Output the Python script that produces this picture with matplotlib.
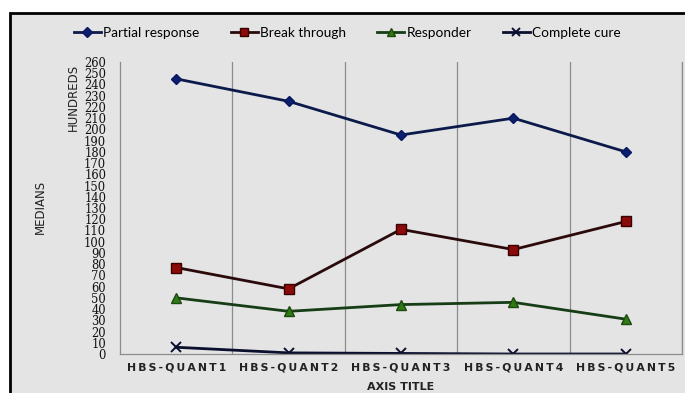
import matplotlib
matplotlib.use("Agg")
import matplotlib.pyplot as plt
from matplotlib.patches import Rectangle

categories = ["HBS- QUANT1", "HBS-QUANT2", "HBS-QUANT3", "HBS-QUANT4", "HBS-QUANT5"]
partial_response = [245, 225, 195, 210, 180]
break_through = [77, 58, 111, 93, 118]
responder = [50, 38, 44, 46, 31]
complete_cure = [6, 1, 0.5, 0, 0]
y_ticks = list(range(0, 261, 10))

def spaced(s):
    return "\u2009".join(s.replace("- ", "-"))

fig = plt.figure(figsize=(6.85, 3.93), dpi=100)
fig.patch.set_facecolor("white")

# chart area box
box = Rectangle((9.5 / 685, -0.05), 1.0, (393 - 13.5) / 393 + 0.05,
                transform=fig.transFigure, facecolor="#e4e4e4",
                edgecolor="black", linewidth=2.0, zorder=-10)
fig.patches.append(box)

ax = fig.add_axes([120 / 685, (393 - 354) / 393, 562 / 685, (354 - 62) / 393])
ax.set_facecolor("none")
x = list(range(len(categories)))

ax.plot(x, partial_response, color="#0b1a4a", lw=2.0, marker="D", ms=5,
        mfc="#0a1f6e", mec="#0a1660", label="Partial response")
ax.plot(x, break_through, color="#2a0a0a", lw=2.0, marker="s", ms=7,
        mfc="#8b0a0a", mec="#3a0000", label="Break through")
ax.plot(x, responder, color="#163d16", lw=2.0, marker="^", ms=7,
        mfc="#2f7a12", mec="#1d4a0e", label="Responder")
ax.plot(x, complete_cure, color="#0b0f2e", lw=2.0, marker="x", ms=7,
        mew=1.4, mec="#0b0f2e", label="Complete cure")

ax.set_xlim(-0.5, len(categories) - 0.5)
ax.set_ylim(0, 260)
ax.set_yticks(y_ticks)
ax.set_yticklabels([str(v) for v in y_ticks], family="DejaVu Serif",
                   fontsize=8.3, color="#111111")
ax.set_xticks(x)
ax.set_xticklabels([spaced(c) for c in categories], fontsize=7.8,
                   fontweight="bold", color="#222222", family="DejaVu Sans")
ax.tick_params(axis="x", length=0, pad=6)
ax.tick_params(axis="y", length=0, pad=10)

for b in [i + 0.5 for i in range(len(categories))]:
    ax.axvline(b, color="#8c8c8c", lw=0.9, zorder=0)
ax.spines["top"].set_visible(False)
for side in ["left", "bottom", "right"]:
    ax.spines[side].set_color("#8c8c8c")
    ax.spines[side].set_linewidth(0.9)

ax.set_xlabel("AXIS TITLE", fontsize=8, fontweight="bold", color="#222222",
              labelpad=7, family="DejaVu Sans Condensed")

fig.text(73 / 685, 1 - 97 / 393, "HUNDREDS", rotation=90, ha="center",
         va="center", fontsize=8.5, color="#222222", family="DejaVu Sans Condensed")
fig.text(40 / 685, 1 - 207 / 393, "MEDIANS", rotation=90, ha="center",
         va="center", fontsize=8.5, color="#222222", family="DejaVu Sans Condensed")

handles, labels = ax.get_legend_handles_labels()
leg = fig.legend(handles, labels, loc="center", ncol=4,
                 bbox_to_anchor=(0.507, 1 - 33 / 393), frameon=False,
                 handlelength=2.0, columnspacing=2.3, handletextpad=0.15,
                 prop={"family": "Lato", "size": 9.8})
for h in leg.legend_handles:
    h.set_markersize(5.5)

fig.savefig("out.png", dpi=100, facecolor="white")
